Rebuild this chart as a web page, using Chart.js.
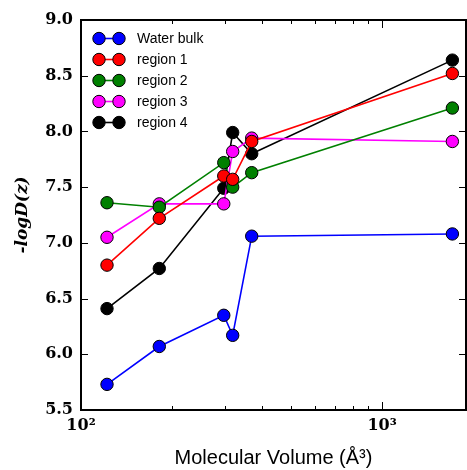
<!DOCTYPE html>
<html>
<head>
<meta charset="utf-8">
<script src="https://cdn.jsdelivr.net/npm/chart.js@4.4.1/dist/chart.umd.min.js"></script>
<style>
html,body{margin:0;padding:0;background:#fff;}
#wrap{width:467px;height:470px;position:relative;}
</style>
</head>
<body>
<div id="wrap"><canvas id="c"></canvas></div>
<script>
// ---- data ----
const volumes = [122, 182, 298, 319, 369, 1712];
const waterBulk = [5.73, 6.07, 6.35, 6.17, 7.06, 7.08];
const region1 = [6.80, 7.22, 7.60, 7.57, 7.91, 8.52];
const region2 = [7.36, 7.32, 7.72, 7.50, 7.63, 8.21];
const region3 = [7.05, 7.35, 7.35, 7.82, 7.94, 7.91];
const region4 = [6.41, 6.77, 7.49, 7.99, 7.80, 8.64];
const seriesNames = ['Water bulk', 'region 1', 'region 2', 'region 3', 'region 4'];
const seriesColors = ['#0000ff', '#ff0000', '#008000', '#ff00ff', '#000000'];
const yTicks = [5.5, 6.0, 6.5, 7.0, 7.5, 8.0, 8.5, 9.0];
const xTicks = [100, 200, 300, 400, 500, 600, 700, 800, 900, 1000];
const xTickLabels = {100: '10\u00B2', 1000: '10\u00B3'};

const seriesValues = [waterBulk, region1, region2, region3, region4];
const datasets = seriesValues.map((vals, i) => ({
  label: seriesNames[i],
  data: vals.map((v, j) => ({x: volumes[j], y: v})),
  borderColor: seriesColors[i],
  backgroundColor: seriesColors[i],
  pointBackgroundColor: seriesColors[i],
  pointBorderColor: '#000',
  pointBorderWidth: 1,
  pointRadius: 6.2,
  borderWidth: 1.6,
  tension: 0,
  fill: false
}));

const tickFont = {family: 'DejaVu Serif', size: 16, weight: 'bold'};

const framePlugin = {
  id: 'frame',
  afterDatasetsDraw(chart) {
    const ctx = chart.ctx;
    const {left, right, top, bottom} = chart.chartArea;
    const xs = chart.scales.x, ys = chart.scales.y;
    ctx.save();
    ctx.strokeStyle = '#000';
    ctx.lineWidth = 1;
    ctx.beginPath();
    yTicks.forEach(v => {
      const py = Math.round(ys.getPixelForValue(v)) + 0.5;
      ctx.moveTo(left, py); ctx.lineTo(left + 7, py);
      ctx.moveTo(right, py); ctx.lineTo(right - 7, py);
    });
    xTicks.forEach(v => {
      const px = Math.round(xs.getPixelForValue(v)) + 0.5;
      const major = Math.abs(Math.log10(v) - Math.round(Math.log10(v))) < 1e-9;
      const len = major ? 8 : 4;
      ctx.moveTo(px, bottom); ctx.lineTo(px, bottom - len);
      ctx.moveTo(px, top); ctx.lineTo(px, top + len);
    });
    ctx.stroke();
    ctx.lineWidth = 2;
    ctx.strokeRect(left, top, right - left, bottom - top);
    ctx.restore();
  }
};

const legendPlugin = {
  id: 'innerLegend',
  afterDraw(chart) {
    const ctx = chart.ctx;
    const {left, top} = chart.chartArea;
    ctx.save();
    chart.data.datasets.forEach((ds, i) => {
      const y = top + 18.5 + i * 21;
      const x1 = left + 18, x2 = left + 38;
      ctx.strokeStyle = ds.borderColor;
      ctx.lineWidth = 1.6;
      ctx.beginPath(); ctx.moveTo(x1, y); ctx.lineTo(x2, y); ctx.stroke();
      [x1, x2].forEach(cx => {
        ctx.beginPath();
        ctx.arc(cx, y, 6.2, 0, Math.PI * 2);
        ctx.fillStyle = ds.pointBackgroundColor;
        ctx.fill();
        ctx.lineWidth = 1;
        ctx.strokeStyle = '#000';
        ctx.stroke();
      });
      ctx.fillStyle = '#000';
      ctx.font = '14px "Liberation Sans", Arial, sans-serif';
      ctx.textAlign = 'left';
      ctx.textBaseline = 'middle';
      ctx.fillText(ds.label, left + 56, y + 0.5);
    });
    ctx.restore();
  }
};

new Chart(document.getElementById('c'), {
  type: 'line',
  data: {datasets},
  options: {
    responsive: true,
    maintainAspectRatio: false,
    animation: false,
    layout: {autoPadding: false, padding: {left: 0, right: 1, top: 20, bottom: 0}},
    plugins: {legend: {display: false}, tooltip: {enabled: false}},
    scales: {
      x: {
        type: 'logarithmic',
        min: 100, max: 1900,
        afterBuildTicks(scale) { scale.ticks = xTicks.map(v => ({value: v})); },
        afterFit(scale) { scale.height = 60; scale.paddingLeft = 0; scale.paddingRight = 0; },
        grid: {display: false, drawTicks: false},
        border: {display: false},
        ticks: {
          autoSkip: false, maxRotation: 0, padding: 6,
          color: '#000', font: tickFont,
          callback: (v) => xTickLabels[v] || ''
        },
        title: {
          display: true, text: 'Molecular Volume (\u00C5\u00B3)', color: '#000',
          font: {family: '"Liberation Sans", Arial, sans-serif', size: 20},
          padding: {top: 0, bottom: 0}
        }
      },
      y: {
        type: 'linear',
        min: 5.5, max: 9.0,
        afterBuildTicks(scale) { scale.ticks = yTicks.map(v => ({value: v})); },
        afterFit(scale) { scale.width = 81; scale.paddingTop = 0; scale.paddingBottom = 0; },
        grid: {display: false, drawTicks: false},
        border: {display: false},
        ticks: {
          autoSkip: false, padding: 8, color: '#000', font: tickFont,
          callback: (v) => Number(v).toFixed(1)
        },
        title: {
          display: true, text: '-logD(z)', color: '#000',
          font: {family: 'DejaVu Serif', size: 17, style: 'italic', weight: 'bold'},
          padding: {top: 12, bottom: 0}
        }
      }
    }
  },
  plugins: [framePlugin, legendPlugin]
});
</script>
</body>
</html>
